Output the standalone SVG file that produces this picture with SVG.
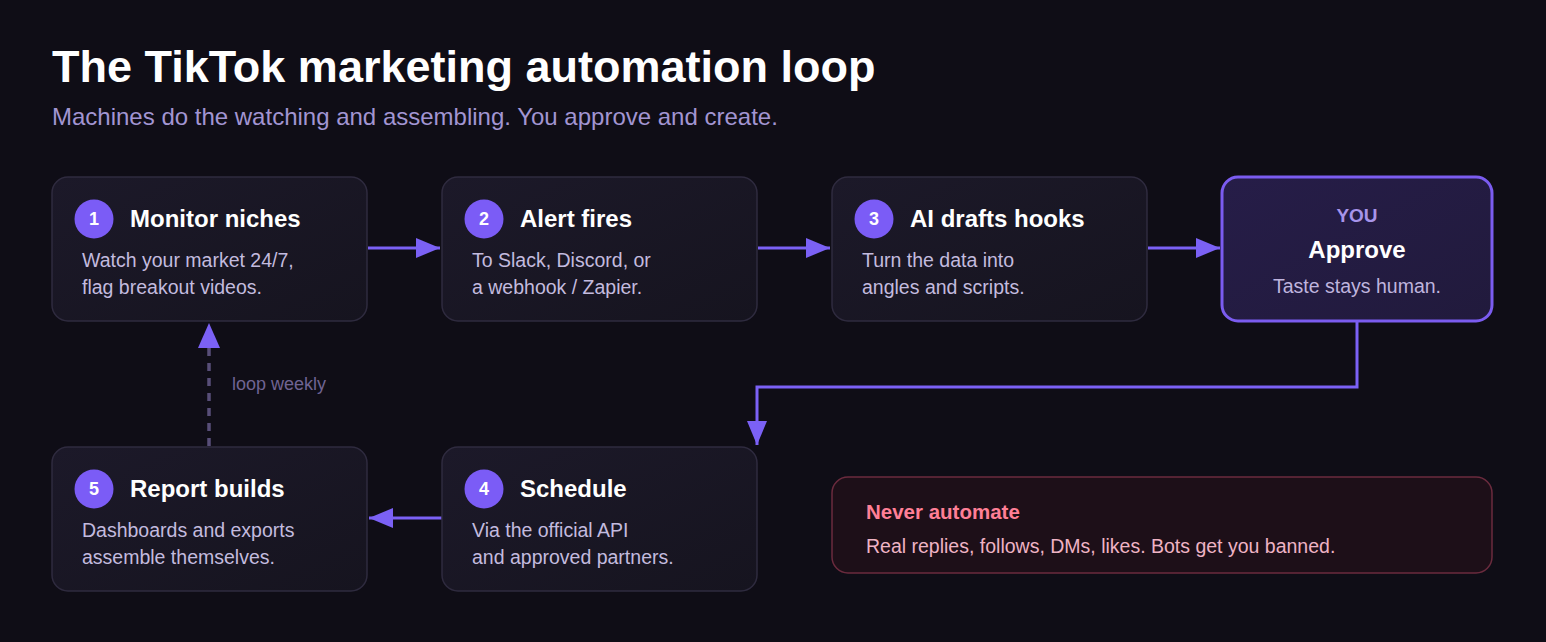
<svg xmlns="http://www.w3.org/2000/svg" width="1546" height="642" viewBox="0 0 1546 642">
<defs>
<linearGradient id="cardg" x1="0" y1="0" x2="1" y2="1">
<stop offset="0" stop-color="#1c1929"/>
<stop offset="1" stop-color="#16141f"/>
</linearGradient>
<linearGradient id="youg" x1="0" y1="0" x2="1" y2="1">
<stop offset="0" stop-color="#261d48"/>
<stop offset="1" stop-color="#211a3c"/>
</linearGradient>
<marker id="ah" viewBox="0 0 24 20" refX="24" refY="10" markerWidth="24" markerHeight="20" markerUnits="userSpaceOnUse" orient="auto">
<path d="M0,0 L24,10 L0,20 Z" fill="#7b61f5"/>
</marker>
<style>
.card{fill:url(#cardg);stroke:#2f2b3f;stroke-width:1.5}
.badge{fill:#7b5cf6}
.num{font-family:"Liberation Sans",Arial,sans-serif;font-weight:bold;font-size:18px;fill:#ffffff;text-anchor:middle}
.ttl{font-family:"Liberation Sans",Arial,sans-serif;font-weight:bold;font-size:24px;fill:#ffffff}
.desc{font-family:"Liberation Sans",Arial,sans-serif;font-size:19.5px;fill:#c3bbdf}
.conn{stroke:#7b61f5;stroke-width:3;fill:none}
</style>
</defs>
<rect x="0" y="0" width="1546" height="642" fill="#0f0d16"/>
<text x="52" y="82" font-family="'Liberation Sans', Arial, sans-serif" font-weight="bold" font-size="45" fill="#ffffff">The TikTok marketing automation loop</text>
<text x="52" y="125" font-family="'Liberation Sans', Arial, sans-serif" font-size="24" fill="#a295d2">Machines do the watching and assembling. You approve and create.</text>

<g id="connectors">
<line class="conn" x1="368" y1="248" x2="440" y2="248" marker-end="url(#ah)"/>
<line class="conn" x1="758" y1="248" x2="830" y2="248" marker-end="url(#ah)"/>
<line class="conn" x1="1148" y1="248" x2="1220" y2="248" marker-end="url(#ah)"/>
<polyline class="conn" points="1357,322 1357,387 757,387 757,445" marker-end="url(#ah)"/>
<line class="conn" x1="442" y1="518" x2="369" y2="518" marker-end="url(#ah)"/>
<line x1="209" y1="446" x2="209" y2="346" stroke="#584e78" stroke-width="3.5" stroke-dasharray="8,7"/>
<path d="M198,348 L209,323 L220,348 Z" fill="#7b61f5"/>
<text x="232" y="390" font-family="'Liberation Sans', Arial, sans-serif" font-size="18" fill="#6f6493">loop weekly</text>
</g>

<g id="node1">
<rect class="card" x="52" y="177" width="315" height="144" rx="16"/>
<circle class="badge" cx="94" cy="219" r="19.5"/>
<text class="num" x="94" y="225">1</text>
<text class="ttl" x="130" y="227">Monitor niches</text>
<text class="desc" x="82" y="267">Watch your market 24/7,</text>
<text class="desc" x="82" y="294">flag breakout videos.</text>
</g>

<g id="node2">
<rect class="card" x="442" y="177" width="315" height="144" rx="16"/>
<circle class="badge" cx="484" cy="219" r="19.5"/>
<text class="num" x="484" y="225">2</text>
<text class="ttl" x="520" y="227">Alert fires</text>
<text class="desc" x="472" y="267">To Slack, Discord, or</text>
<text class="desc" x="472" y="294">a webhook / Zapier.</text>
</g>

<g id="node3">
<rect class="card" x="832" y="177" width="315" height="144" rx="16"/>
<circle class="badge" cx="874" cy="219" r="19.5"/>
<text class="num" x="874" y="225">3</text>
<text class="ttl" x="910" y="227">AI drafts hooks</text>
<text class="desc" x="862" y="267">Turn the data into</text>
<text class="desc" x="862" y="294">angles and scripts.</text>
</g>

<g id="approve">
<rect x="1222" y="177" width="270" height="144" rx="16" fill="url(#youg)" stroke="#7b5cf0" stroke-width="3"/>
<text x="1357" y="222" text-anchor="middle" font-family="'Liberation Sans', Arial, sans-serif" font-weight="bold" font-size="19" fill="#a794ea">YOU</text>
<text x="1357" y="258" text-anchor="middle" font-family="'Liberation Sans', Arial, sans-serif" font-weight="bold" font-size="24" fill="#ffffff">Approve</text>
<text x="1357" y="293" text-anchor="middle" font-family="'Liberation Sans', Arial, sans-serif" font-size="19.5" fill="#bfb4de">Taste stays human.</text>
</g>

<g id="node4">
<rect class="card" x="442" y="447" width="315" height="144" rx="16"/>
<circle class="badge" cx="484" cy="489" r="19.5"/>
<text class="num" x="484" y="495">4</text>
<text class="ttl" x="520" y="497">Schedule</text>
<text class="desc" x="472" y="537">Via the official API</text>
<text class="desc" x="472" y="564">and approved partners.</text>
</g>

<g id="node5">
<rect class="card" x="52" y="447" width="315" height="144" rx="16"/>
<circle class="badge" cx="94" cy="489" r="19.5"/>
<text class="num" x="94" y="495">5</text>
<text class="ttl" x="130" y="497">Report builds</text>
<text class="desc" x="82" y="537">Dashboards and exports</text>
<text class="desc" x="82" y="564">assemble themselves.</text>
</g>

<g id="never">
<rect x="832" y="477" width="660" height="96" rx="16" fill="#1d0f18" stroke="#6b2b3e" stroke-width="1.5"/>
<text x="866" y="519" font-family="'Liberation Sans', Arial, sans-serif" font-weight="bold" font-size="20.5" fill="#ff7f96">Never automate</text>
<text x="866" y="553" font-family="'Liberation Sans', Arial, sans-serif" font-size="19.5" fill="#efb3c4">Real replies, follows, DMs, likes. Bots get you banned.</text>
</g>
</svg>
